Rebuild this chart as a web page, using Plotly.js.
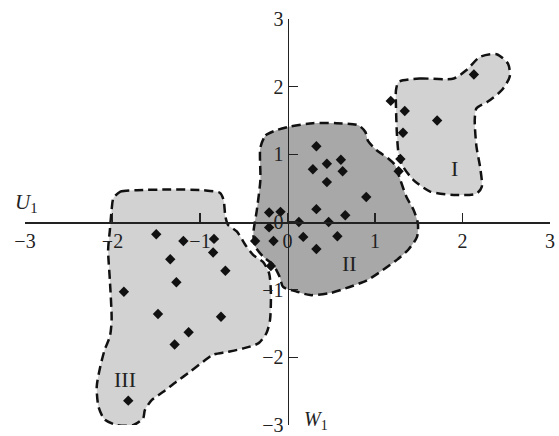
<!DOCTYPE html>
<html>
<head>
<meta charset="utf-8">
<script src="https://cdn.plot.ly/plotly-3.0.1.min.js"></script>
<style>html,body{margin:0;padding:0;background:#fff;}#chart{width:559px;height:436px;}</style>
</head>
<body>
<div id="chart"></div>
<script>
// Region boundaries (data coordinates)
const regionI_x = [1.27,1.51,1.90,2.05,2.20,2.39,2.52,2.54,2.45,2.29,2.16,2.14,2.16,2.20,2.22,2.16,1.90,1.63,1.44,1.32,1.27,1.25,1.24,1.24,1.27];
const regionI_y = [2.07,2.12,2.12,2.25,2.44,2.48,2.34,2.15,1.95,1.78,1.68,1.51,1.11,0.82,0.52,0.42,0.40,0.45,0.62,0.82,1.01,1.31,1.70,1.95,2.07];

const regionII_x = [-0.31,-0.25,-0.12,0.03,0.29,0.56,0.81,0.89,0.92,1.02,1.15,1.23,1.29,1.36,1.44,1.49,1.48,1.38,1.25,1.09,0.91,0.71,0.49,0.26,0.11,-0.05,-0.09,-0.16,-0.28,-0.37,-0.39,-0.35,-0.31,-0.31];
const regionII_y = [1.10,1.28,1.36,1.41,1.46,1.46,1.43,1.33,1.20,1.06,0.94,0.84,0.62,0.37,0.18,-0.02,-0.22,-0.41,-0.56,-0.71,-0.86,-0.96,-1.05,-1.08,-1.03,-0.96,-0.81,-0.64,-0.51,-0.36,-0.17,0.18,0.62,1.10];

const regionIII_x = [-1.99,-1.91,-1.72,-1.34,-0.96,-0.77,-0.73,-0.71,-0.68,-0.58,-0.47,-0.39,-0.28,-0.21,-0.19,-0.20,-0.24,-0.33,-0.51,-0.69,-0.85,-0.96,-1.11,-1.27,-1.42,-1.55,-1.63,-1.65,-1.76,-1.95,-2.09,-2.16,-2.18,-2.14,-2.09,-2.03,-2.01,-2.03,-2.05,-2.03,-2.01,-1.99];
const regionIII_y = [0.35,0.45,0.47,0.48,0.47,0.43,0.32,0.08,-0.04,-0.14,-0.36,-0.49,-0.59,-0.76,-1.05,-1.45,-1.64,-1.79,-1.87,-1.92,-1.96,-2.06,-2.21,-2.36,-2.51,-2.63,-2.78,-2.90,-3.00,-3.00,-2.92,-2.73,-2.43,-2.14,-1.89,-1.69,-1.45,-0.86,-0.41,-0.12,0.18,0.35];

// Sample points
const groupI_x = [2.13,1.18,1.34,1.71,1.32,1.29,1.27];
const groupI_y = [2.18,1.79,1.64,1.50,1.32,0.93,0.75];

const groupII_x = [0.33,0.29,0.45,0.61,0.63,0.45,0.90,0.33,0.66,-0.21,-0.08,0.13,0.47,-0.21,-0.37,-0.16,0.18,0.57,0.33,-0.19];
const groupII_y = [1.12,0.78,0.86,0.92,0.75,0.59,0.37,0.19,0.10,0.14,0.15,0.00,0.00,-0.08,-0.28,-0.28,-0.22,-0.21,-0.40,-0.65];

const groupIII_x = [-1.50,-1.19,-0.84,-0.85,-1.34,-0.71,-1.27,-1.87,-1.48,-0.76,-1.13,-1.29,-1.82];
const groupIII_y = [-0.18,-0.28,-0.25,-0.45,-0.55,-0.72,-0.89,-1.03,-1.36,-1.40,-1.63,-1.81,-2.64];

const tickVals = [-3,-2,-1,0,1,2,3];
const tickText = ['\u22123','\u22122','\u22121','0','1','2','3'];

const regionLabels = ['I','II','III'];
const regionLabelX = [1.91,0.71,-1.86];
const regionLabelY = [0.79,-0.62,-2.33];

const LIGHT = 'rgb(210,210,210)';
const DARK = 'rgb(168,168,168)';
const SERIF = '"Liberation Serif", "Times New Roman", serif';

function region(x, y, fill) {
  return {
    x: x, y: y, type: 'scatter', mode: 'lines', fill: 'toself', fillcolor: fill,
    line: {color: '#111', width: 2.5, dash: '9px,5px', shape: 'spline', smoothing: 0.7},
    hoverinfo: 'skip', showlegend: false
  };
}
function pts(x, y) {
  return {
    x: x, y: y, type: 'scatter', mode: 'markers',
    marker: {symbol: 'diamond', size: 8, color: '#111'},
    showlegend: false, cliponaxis: false
  };
}

const data = [
  region(regionIII_x, regionIII_y, LIGHT),
  region(regionI_x, regionI_y, LIGHT),
  region(regionII_x, regionII_y, DARK),
  pts(groupI_x, groupI_y),
  pts(groupII_x, groupII_y),
  pts(groupIII_x, groupIII_y)
];

const annotations = regionLabels.map((t, i) => ({
  x: regionLabelX[i], y: regionLabelY[i], xref: 'x', yref: 'y', text: t, showarrow: false,
  font: {family: SERIF, size: 22, color: '#222'}
}));
annotations.push({x: 0.002, y: 0.547, xref: 'paper', yref: 'paper', xanchor: 'center', yanchor: 'middle',
  text: '<i>U</i><sub>1</sub>', showarrow: false,
  font: {family: SERIF, size: 21, color: '#222'}});
annotations.push({x: 0.554, y: -0.025, xref: 'paper', yref: 'paper', xanchor: 'center', yanchor: 'bottom',
  text: '<i>W</i><sub>1</sub>', showarrow: false,
  font: {family: SERIF, size: 20, color: '#222'}});

const axisCommon = {
  range: [-3, 3], domain: [0, 1], anchor: 'free', position: 0.5,
  showline: true, linecolor: '#222', linewidth: 1.5,
  ticks: 'inside', ticklen: 9, tickwidth: 1.5, tickcolor: '#222',
  tickvals: tickVals, ticktext: tickText,
  tickfont: {family: SERIF, size: 20, color: '#222'},
  showgrid: false, zeroline: false, fixedrange: true
};

const layout = {
  width: 559, height: 436,
  margin: {l: 25, r: 9, t: 19, b: 11},
  paper_bgcolor: '#fff', plot_bgcolor: 'rgba(0,0,0,0)',
  showlegend: false,
  xaxis: Object.assign({}, axisCommon, {side: 'bottom'}),
  yaxis: Object.assign({}, axisCommon, {side: 'left'}),
  annotations: annotations
};

Plotly.newPlot('chart', data, layout, {displayModeBar: false, staticPlot: true});
</script>
</body>
</html>
